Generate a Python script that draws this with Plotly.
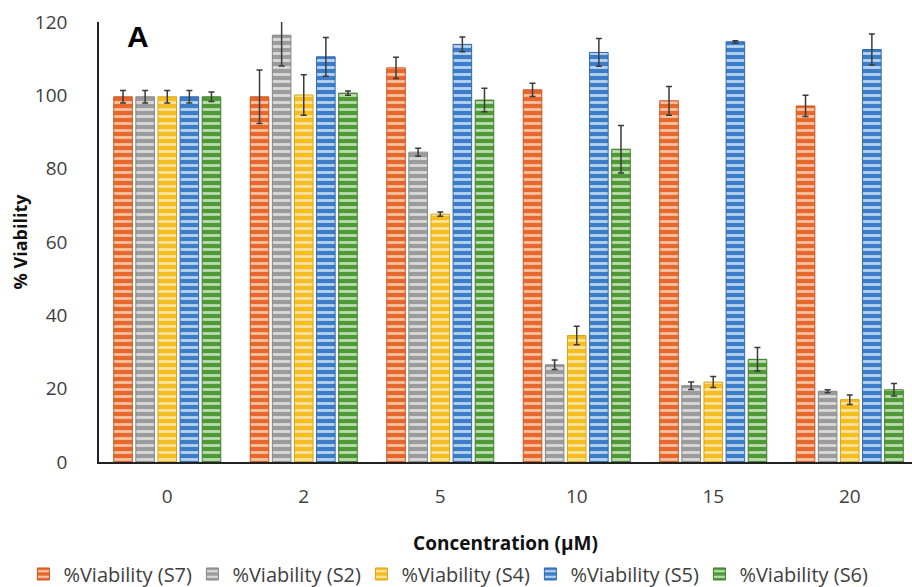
import plotly.graph_objects as go

# Concentrations (µM) and % viability per compound, with error bars
concentrations = ["0", "2", "5", "10", "15", "20"]

s7 = [99.6, 99.6, 107.5, 101.5, 98.5, 97.1]
s7_err = [1.7, 7.3, 2.9, 1.8, 3.9, 2.9]

s2 = [99.6, 116.4, 84.5, 26.5, 20.8, 19.3]
s2_err = [1.7, 8.4, 1.1, 1.3, 1.0, 0.4]

s4 = [99.6, 100.1, 67.6, 34.5, 21.8, 17.0]
s4_err = [1.7, 5.5, 0.6, 2.5, 1.5, 1.3]

s5 = [99.6, 110.5, 113.9, 111.7, 114.6, 112.5]
s5_err = [1.7, 5.3, 2.0, 3.8, 0.3, 4.2]

s6 = [99.6, 100.6, 98.7, 85.3, 28.0, 19.7]
s6_err = [1.3, 0.6, 3.2, 6.5, 3.2, 1.7]

series = [
    ("%Viability (S7)", s7, s7_err, "#E8672A", "#F6C3A6", "#C9551F"),
    ("%Viability (S2)", s2, s2_err, "#9C9C9C", "#DADADA", "#858585"),
    ("%Viability (S4)", s4, s4_err, "#F5BD1F", "#FBE3A0", "#D9A514"),
    ("%Viability (S5)", s5, s5_err, "#3B7DC8", "#B9D3EE", "#2F69AC"),
    ("%Viability (S6)", s6, s6_err, "#4E9A35", "#BEDBB1", "#3E7F29"),
]

fig = go.Figure()
for name, vals, errs, base, light, edge in series:
    fig.add_trace(go.Bar(
        name=name,
        x=concentrations,
        y=vals,
        error_y=dict(type="data", array=errs, visible=True,
                     color="#3A3A3A", thickness=1.5, width=3),
        marker=dict(
            color=base,
            line=dict(color=edge, width=1),
            pattern=dict(shape="-", size=7, solidity=0.4,
                         fgcolor=light, bgcolor=base, fillmode="replace"),
        ),
    ))

FONT = "'Open Sans', Lato, sans-serif"
axis_font = dict(family=FONT, size=19, color="#404040")

fig.update_layout(
    width=912, height=587,
    margin=dict(l=99, r=0, t=22, b=125, autoexpand=False),
    paper_bgcolor="white",
    plot_bgcolor="white",
    barmode="group",
    bargap=0.19,
    bargroupgap=0.16,
    showlegend=True,
    legend=dict(
        orientation="h",
        x=-0.093, xanchor="left",
        y=-0.2545, yanchor="middle",
        font=dict(family=FONT, size=20, color="#404040"),
        itemwidth=30,
        entrywidth=124,
        traceorder="normal",
    ),
    xaxis=dict(
        type="category",
        range=[-0.5, 5.456],
        showline=True, linecolor="#222222", linewidth=2,
        ticks="", showgrid=False, zeroline=False,
        tickfont=axis_font,
        ticklabelstandoff=16,
        title=dict(text="<b>Concentration (µM)</b>",
                   font=dict(family=FONT, size=19, color="#111111"),
                   standoff=29),
    ),
    yaxis=dict(
        range=[0, 120],
        tickvals=[0, 20, 40, 60, 80, 100, 120],
        showline=True, linecolor="#222222", linewidth=1.5,
        ticks="", showgrid=False, zeroline=False,
        tickfont=axis_font,
        ticklabelstandoff=26,
        title=dict(text="<b>% Viability</b>",
                   font=dict(family=FONT, size=18, color="#111111"),
                   standoff=3),
    ),
    annotations=[
        dict(text="<b>A</b>", x=(125 - 99) / (912 - 99), y=(462 - 36) / 440,
             xref="paper", yref="paper",
             showarrow=False, xanchor="left", yanchor="middle",
             font=dict(family="Liberation Sans, Arial, sans-serif", size=30, color="black")),
    ],
)

fig.write_html("out.html")
